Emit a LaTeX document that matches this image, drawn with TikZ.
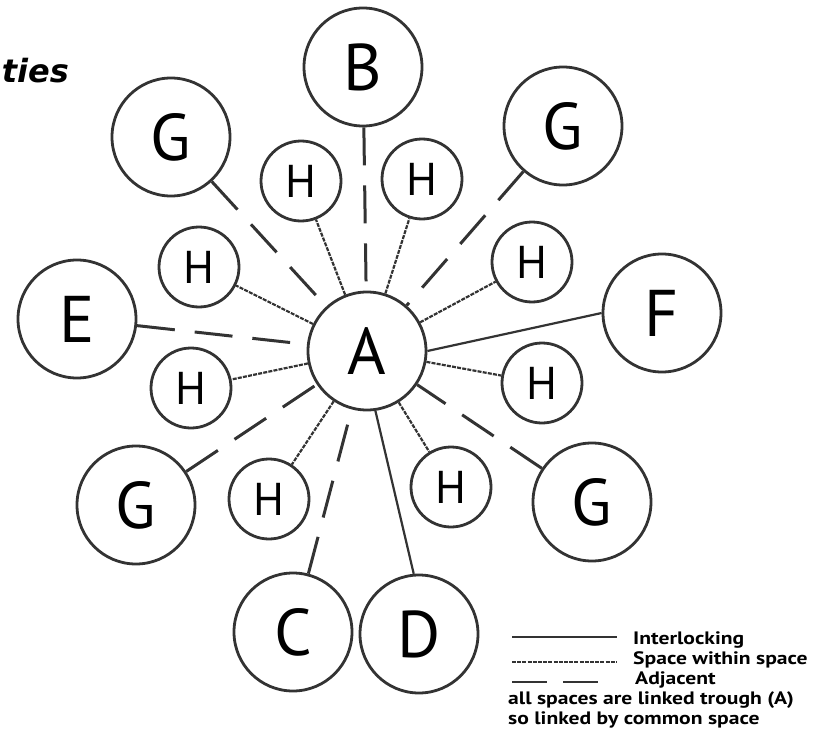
\documentclass[tikz,border=0pt]{standalone}
\usepackage{fontspec}
\setmainfont{PT Sans}
\newfontfamily\titlefont{DejaVu Sans}
\newfontfamily\legfont[FakeStretch=1.2]{PT Sans}

\begin{document}
\begin{tikzpicture}[x=1pt, y=-1pt,
    space/.style={circle, draw=black!80, line width=2.8pt, minimum size=118pt, inner sep=0pt, font=\fontsize{66}{66}\selectfont},
    subspace/.style={space, minimum size=80pt, font=\fontsize{46}{46}\selectfont},
    interlock/.style={draw=black!80, line width=2.2pt},
    within/.style={draw=black!80, line width=2.2pt, dash pattern=on 4pt off 1.2pt},
    adjacent/.style={draw=black!80, line width=3pt, dash pattern=on 38pt off 20pt},
    legtext/.style={anchor=base west, inner sep=0pt, font=\legfont\bfseries\fontsize{18}{18}\selectfont}]
    \useasboundingbox (0,0) rectangle (817,752);

    % Titelrest links oben
    \node[anchor=base east, inner sep=0pt, font=\titlefont\bfseries\itshape\fontsize{32}{32}\selectfont] (title) at (69,83) {ties};

    % Zentraler Raum und aeussere Raeume
    \node[space] (A) at (367,351) {A};
    \node[space] (B) at (363,67) {B};
    \node[space] (G1) at (171,137) {G};
    \node[space] (G2) at (563,126) {G};
    \node[space] (E) at (77,319) {E};
    \node[space] (F) at (662,313) {F};
    \node[space] (G3) at (136,505) {G};
    \node[space] (G4) at (592,502) {G};
    \node[space] (C) at (293,632) {C};
    \node[space] (D) at (419,634) {D};

    % Kleine Raeume H
    \node[subspace] (H1) at (301,181) {H};
    \node[subspace] (H2) at (422,179) {H};
    \node[subspace] (H3) at (199,267) {H};
    \node[subspace] (H4) at (532,262) {H};
    \node[subspace] (H5) at (191,388) {H};
    \node[subspace] (H6) at (542,383) {H};
    \node[subspace] (H7) at (269,499) {H};
    \node[subspace] (H8) at (451,487) {H};

    % Verbindungen
    \draw[interlock] (A.east) -- (F.west);
    \draw[interlock] (A.-82) -- (D.95);
    \foreach \i in {1,...,8}
        \draw[within] (A) -- (H\i);
    \foreach \n in {B,G1,G2,E,G3,G4,C}
        \draw[adjacent] (\n) -- (A);

    % Legende
    \coordinate (l1a) at (512,637); \coordinate (l1b) at (617,637);
    \coordinate (l2a) at (512,662); \coordinate (l2b) at (617,662);
    \coordinate (l3a) at (512,682); \coordinate (l3b) at (606,682);
    \draw[interlock, line width=1.8pt] (l1a) -- (l1b);
    \draw[within, line width=1.5pt] (l2a) -- (l2b);
    \draw[adjacent, line width=2pt, dash pattern=on 35pt off 16pt] (l3a) -- (l3b);
    \node[legtext] (t1) at (633,644) {Interlocking};
    \node[legtext] (t2) at (633,664) {Space within space};
    \node[legtext] (t3) at (635,684) {Adjacent};
    \node[legtext] (t4) at (508,704) {all spaces are linked trough (A)};
    \node[legtext] (t5) at (508,724) {so linked by common space};
\end{tikzpicture}
\end{document}
